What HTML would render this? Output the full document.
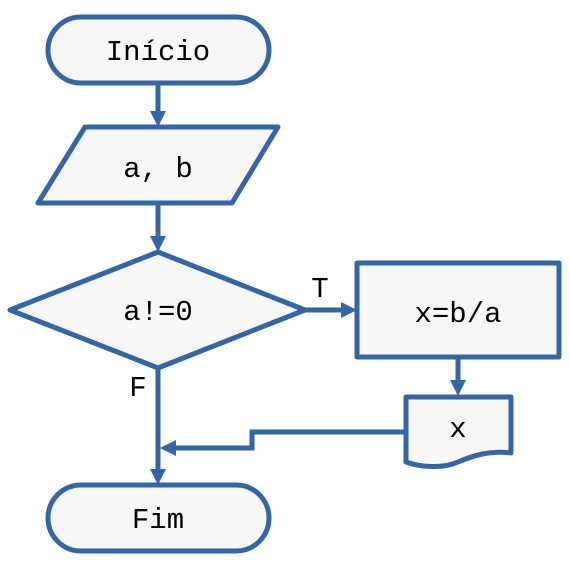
<!DOCTYPE html>
<html><head><meta charset="utf-8"><style>html,body{margin:0;padding:0;background:#fff}svg{display:block}</style></head>
<body>
<svg width="570" height="570" viewBox="0 0 570 570" xmlns="http://www.w3.org/2000/svg">
<g stroke="#3465a4" stroke-width="5" fill="#f7f7f7" stroke-linejoin="round">
<rect x="48" y="17" width="221" height="66" rx="33"/>
<polygon points="85,127 278,127 232,203 38,203"/>
<polygon points="158,252 305,310 158,368 10,310"/>
<rect x="357" y="263" width="202" height="94"/>
<path d="M406,397 H511 V453 C490,450 472,456 458,462 C442,469 420,467 406,462 Z"/>
<rect x="48" y="485" width="221" height="66" rx="33"/>
</g>
<g stroke="#3465a4" stroke-width="5" fill="none">
<line x1="158" y1="83" x2="158" y2="112"/>
<line x1="158" y1="203" x2="158" y2="237"/>
<line x1="305" y1="310" x2="342" y2="310"/>
<line x1="458" y1="357" x2="458" y2="381"/>
<line x1="158" y1="368" x2="158" y2="470"/>
<polyline points="406,432 252,432 252,448 175,448"/>
</g>
<g fill="#3465a4">
<path d="M150,111 L166,111 L158,127 Z"/>
<path d="M150,236 L166,236 L158,252 Z"/>
<path d="M341,302 L341,318 L357,310 Z"/>
<path d="M450,380 L466,380 L458,396 Z"/>
<path d="M150,469 L166,469 L158,485 Z"/>
<path d="M176,440 L176,456 L160,448 Z"/>
</g>
<g font-family="Liberation Mono, monospace" font-size="29" fill="#000" text-anchor="middle">
<text x="158" y="60">Início</text>
<text x="158" y="177">a, b</text>
<text x="158" y="320">a!=0</text>
<text x="458" y="322">x=b/a</text>
<text x="458" y="437">x</text>
<text x="158" y="528">Fim</text>
<text x="320" y="297">T</text>
<text x="138" y="396">F</text>
</g>
</svg>
</body></html>
